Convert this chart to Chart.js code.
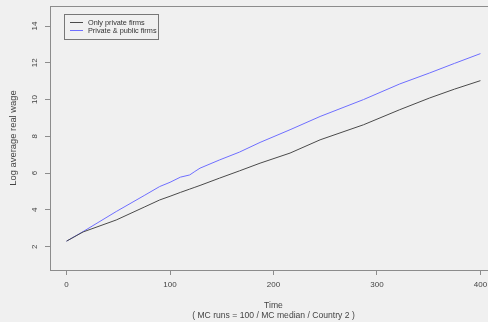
<!DOCTYPE html>
<html>
<head>
<meta charset="utf-8">
<script src="https://cdn.jsdelivr.net/npm/chart.js@4/dist/chart.umd.min.js"></script>
<style>
  html, body { margin: 0; padding: 0; background: #f0f0f0; overflow: hidden; }
  #wrap { width: 488px; height: 322px; overflow: hidden; }
  canvas { display: block; }
</style>
</head>
<body>
<div id="wrap"><canvas id="chart" width="510" height="322"></canvas></div>
<script>
// ---- Data -----------------------------------------------------------
const times         = [0, 16, 48, 75, 90, 100, 110, 119, 124, 129, 148, 167, 187, 216, 245, 287, 322, 351, 375, 400];
const privateOnly   = [2.3, 2.8, 3.45, 4.15, 4.54, 4.74, 4.95, 5.13, 5.23, 5.33, 5.73, 6.12, 6.54, 7.09, 7.81, 8.63, 9.45, 10.09, 10.57, 11.03];
const privatePublic = [2.3, 2.82, 3.91, 4.78, 5.27, 5.5, 5.78, 5.9, 6.09, 6.27, 6.72, 7.14, 7.67, 8.36, 9.08, 10.0, 10.85, 11.45, 11.97, 12.5];
const seriesLabels  = ["Only private firms", "Private & public firms"];
const xTicks        = [0, 100, 200, 300, 400];
const yTicks        = [2, 4, 6, 8, 10, 12, 14];

const FONT   = "'Liberation Sans', Arial, sans-serif";
const AXIS   = "#8c8c8c";
const TEXT   = "#444";

const toPts = (ys) => times.map((t, i) => ({ x: t, y: ys[i] }));

// R style box round the plot area plus a boxed legend in the top-left
const boxAndLegend = {
    id: "boxAndLegend",
    afterDatasetsDraw(chart) {
        const { ctx, chartArea: a } = chart;
        ctx.save();
        ctx.strokeStyle = AXIS;
        ctx.lineWidth = 1;
        ctx.strokeRect(a.left + 0.5, a.top + 0.5, a.right - a.left, a.bottom - a.top);

        // legend
        const lx = 64, ly = 14, lw = 94, lh = 25;
        ctx.strokeStyle = "#777";
        ctx.strokeRect(lx + 0.5, ly + 0.5, lw, lh);
        ctx.font = "7.3px " + FONT;
        ctx.textBaseline = "middle";
        chart.data.datasets.forEach((ds, i) => {
            const y = ly + 8.5 + i * 8;
            ctx.strokeStyle = ds.borderColor;
            ctx.lineWidth = 1;
            ctx.beginPath();
            ctx.moveTo(lx + 6, y);
            ctx.lineTo(lx + 19, y);
            ctx.stroke();
            ctx.fillStyle = "#333";
            ctx.fillText(ds.label, lx + 24, y);
        });
        ctx.restore();
    },
};

new Chart(document.getElementById("chart"), {
    type: "line",
    data: {
        datasets: [
            {
                label: seriesLabels[0],
                data: toPts(privateOnly),
                borderColor: "#4a4a4a",
                borderWidth: 1,
                pointRadius: 0,
                tension: 0,
            },
            {
                label: seriesLabels[1],
                data: toPts(privatePublic),
                borderColor: "#6e6eff",
                borderWidth: 1,
                pointRadius: 0,
                tension: 0,
            },
        ],
    },
    options: {
        responsive: false,
        animation: false,
        devicePixelRatio: 1,
        layout: { padding: { top: 6, right: 13, left: 0, bottom: 0 } },
        plugins: { legend: { display: false }, tooltip: { enabled: false } },
        scales: {
            x: {
                type: "linear",
                min: -16,
                max: 416,
                afterBuildTicks: (s) => { s.ticks = xTicks.map((v) => ({ value: v })); },
                afterFit: (s) => { s.height = 52; s.paddingLeft = 0; s.paddingRight = 0; },
                border: { display: true, color: AXIS, width: 1 },
                grid: { drawOnChartArea: false, drawTicks: true, tickLength: 5, tickColor: AXIS },
                ticks: { color: TEXT, padding: 5, maxRotation: 0, font: { family: FONT, size: 8 } },
                title: {
                    display: true,
                    text: ["Time", "( MC runs = 100 / MC median / Country 2 )"],
                    color: TEXT,
                    padding: { top: 0, bottom: 1 },
                    font: { family: FONT, size: 8.6, lineHeight: "10px" },
                },
            },
            y: {
                type: "linear",
                min: 0.73,
                max: 15.09,
                afterBuildTicks: (s) => { s.ticks = yTicks.map((v) => ({ value: v })); },
                afterFit: (s) => { s.width = 50; s.paddingTop = 0; s.paddingBottom = 0; },
                border: { display: true, color: AXIS, width: 1 },
                grid: { drawOnChartArea: false, drawTicks: true, tickLength: 5, tickColor: AXIS },
                ticks: {
                    color: TEXT, padding: 6, minRotation: 90, maxRotation: 90,
                    crossAlign: "center", font: { family: FONT, size: 8 },
                },
                title: {
                    display: true,
                    text: "Log average real wage",
                    color: TEXT,
                    padding: { top: 8, bottom: 0 },
                    font: { family: FONT, size: 9.4 },
                },
            },
        },
    },
    plugins: [boxAndLegend],
});
</script>
</body>
</html>
